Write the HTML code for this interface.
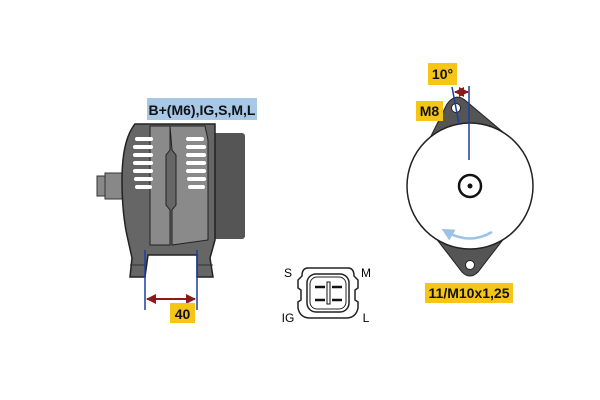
<!DOCTYPE html>
<html><head><style>
body{margin:0;background:#fff;}
svg{display:block;font-family:"Liberation Sans",sans-serif;font-weight:bold;}
</style></head><body>
<svg width="600" height="400" viewBox="0 0 600 400" xmlns="http://www.w3.org/2000/svg">
<defs>
<marker id="ar" viewBox="0 0 10 10" refX="9" refY="5" markerWidth="5" markerHeight="5" orient="auto-start-reverse"><path d="M0,0L10,5L0,10z" fill="#8b1a1a"/></marker>
<marker id="ab" viewBox="0 0 10 10" refX="5" refY="5" markerWidth="5" markerHeight="5" orient="auto"><path d="M0,0L10,5L0,10z" fill="#9cc3e6"/></marker>
</defs>
<!-- left alternator -->
<rect x="205" y="133" width="40" height="106" rx="3" fill="#555"/>
<rect x="97" y="176" width="8" height="20" fill="#888" stroke="#333"/>
<rect x="105" y="173" width="18" height="26" fill="#888" stroke="#333"/>
<path d="M135,124 L215,124 L215,240 L210,258 L213,277 L197,277 L197,255 L148,255 L145,277 L130,277 L132,258 L128,240 Q122,215 122,180 Q122,140 135,124 Z" fill="#666" stroke="#222" stroke-width="1.5"/>
<path d="M150,126 L170,126 L170,150 L166,155 L166,205 L170,210 L170,245 L150,245 Z" fill="#8a8a8a" stroke="#222"/>
<path d="M170,126 L205,126 L208,140 L208,240 L172,245 L172,210 L176,205 L176,155 L172,150 Z" fill="#8a8a8a" stroke="#222"/>
<g fill="#fff">
<rect x="135" y="137" width="18" height="4" rx="2"/><rect x="133" y="145" width="20" height="4" rx="2"/><rect x="133" y="153" width="20" height="4" rx="2"/><rect x="133" y="161" width="20" height="4" rx="2"/><rect x="133" y="169" width="20" height="4" rx="2"/><rect x="134" y="177" width="19" height="4" rx="2"/><rect x="135" y="185" width="17" height="4" rx="2"/>
<rect x="186" y="137" width="18" height="4" rx="2"/><rect x="186" y="145" width="20" height="4" rx="2"/><rect x="186" y="153" width="20" height="4" rx="2"/><rect x="186" y="161" width="20" height="4" rx="2"/><rect x="186" y="169" width="20" height="4" rx="2"/><rect x="187" y="177" width="19" height="4" rx="2"/><rect x="188" y="185" width="17" height="4" rx="2"/>
</g>
<line x1="130" y1="265" x2="145" y2="265" stroke="#333"/><line x1="197" y1="265" x2="213" y2="265" stroke="#333"/>
<rect x="147" y="98" width="110" height="22" fill="#a8c8e8"/>
<text x="202" y="115" font-size="14" text-anchor="middle" fill="#111">B+(M6),IG,S,M,L</text>
<line x1="145" y1="250" x2="145" y2="310" stroke="#1a3ea0" stroke-width="1.5"/>
<line x1="197" y1="250" x2="197" y2="310" stroke="#1a3ea0" stroke-width="1.5"/>
<line x1="147" y1="299" x2="195" y2="299" stroke="#8b1a1a" stroke-width="2" marker-start="url(#ar)" marker-end="url(#ar)"/>
<rect x="170" y="303" width="25" height="20" fill="#f5c518"/>
<text x="182.5" y="319" font-size="14" text-anchor="middle" fill="#111">40</text>
<!-- connector -->
<text x="288" y="277" font-size="12" font-weight="normal" text-anchor="middle">S</text>
<text x="366" y="277" font-size="12" font-weight="normal" text-anchor="middle">M</text>
<text x="288" y="322" font-size="12" font-weight="normal" text-anchor="middle">IG</text>
<text x="366" y="322" font-size="12" font-weight="normal" text-anchor="middle">L</text>
<path d="M308,268 L348,268 Q354,268 354,276 L358,280 L358,288 L355,290 L355,300 L358,302 L358,308 Q356,318 346,318 L310,318 Q300,318 298,308 L298,302 L301,300 L301,290 L298,288 L298,280 L302,276 Q302,268 308,268 Z" fill="#fff" stroke="#222" stroke-width="1.5"/>
<rect x="307" y="274" width="42" height="38" rx="9" fill="none" stroke="#222" stroke-width="1.5"/>
<rect x="310" y="277" width="36" height="32" rx="7" fill="none" stroke="#222"/>
<line x1="315" y1="287" x2="325" y2="287" stroke="#111" stroke-width="2.5"/><line x1="332" y1="287" x2="342" y2="287" stroke="#111" stroke-width="2.5"/>
<line x1="315" y1="300" x2="325" y2="300" stroke="#111" stroke-width="2.5"/><line x1="332" y1="300" x2="342" y2="300" stroke="#111" stroke-width="2.5"/>
<rect x="327" y="282" width="3" height="22" fill="#fff" stroke="#111"/>
<!-- right alternator -->
<path d="M418,162 L447,104 Q456,92 466,101 L510,138 Z" fill="#555" stroke="#222"/>
<path d="M428,228 L512,228 L478,272 Q470,280 462,272 Z" fill="#555" stroke="#222"/>
<circle cx="470" cy="186" r="63" fill="#fff" stroke="#222" stroke-width="1.5"/>
<circle cx="456" cy="108" r="4.5" fill="#fff" stroke="#222"/>
<circle cx="470" cy="265" r="4.5" fill="#fff" stroke="#222"/>
<circle cx="470" cy="186" r="11" fill="#fff" stroke="#111" stroke-width="2.5"/>
<circle cx="470" cy="186" r="2.5" fill="#111"/>
<line x1="469" y1="86" x2="469" y2="160" stroke="#1a3ea0" stroke-width="1.5"/>
<line x1="452" y1="87" x2="459" y2="124" stroke="#1a3ea0" stroke-width="1.5"/>
<line x1="455" y1="92" x2="468" y2="92" stroke="#8b1a1a" stroke-width="2" marker-start="url(#ar)" marker-end="url(#ar)"/>
<path d="M492,232 Q470,245 447,232" fill="none" stroke="#9cc3e6" stroke-width="2.5" marker-end="url(#ab)"/>
<rect x="428" y="63" width="29" height="22" fill="#f5c518"/>
<text x="442.5" y="79" font-size="14" text-anchor="middle" fill="#111">10°</text>
<rect x="416" y="101" width="27" height="20" fill="#f5c518"/>
<text x="429.5" y="116" font-size="14" text-anchor="middle" fill="#111">M8</text>
<rect x="425" y="283" width="88" height="20" fill="#f5c518"/>
<text x="469" y="298" font-size="14" text-anchor="middle" fill="#111">11/M10x1,25</text>
</svg>
</body></html>
